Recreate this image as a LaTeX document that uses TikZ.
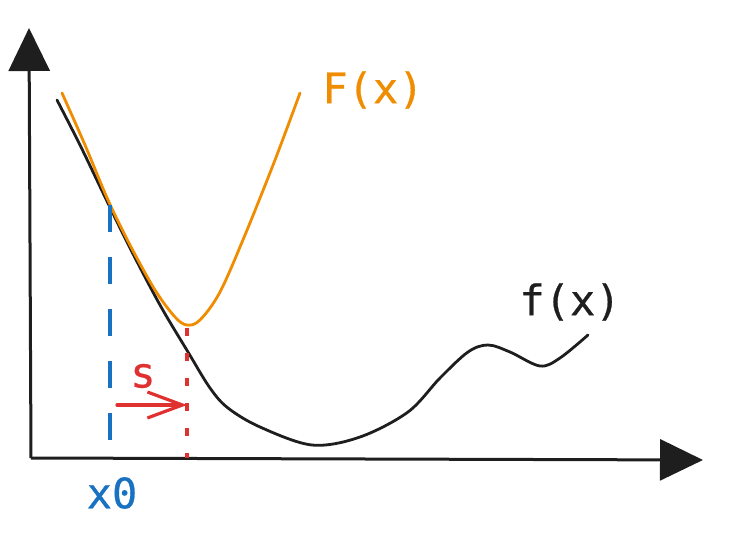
\documentclass[tikz,border=0pt]{standalone}
\usepackage{fontspec}
\setmonofont[FakeBold=0.6]{DejaVu Sans Mono}
\usepackage{tikz}
\usetikzlibrary{arrows.meta,positioning,calc}
\definecolor{sketchblack}{HTML}{1E1E1E}
\definecolor{sketchorange}{HTML}{F08C00}
\definecolor{sketchblue}{HTML}{1971C2}
\definecolor{sketchred}{HTML}{E03131}
\tikzset{
  axisline/.style={draw=sketchblack,line width=3pt,-{Triangle[length=43pt,width=41pt]}},
  fcurve/.style={draw=sketchblack,line width=2.8pt,line join=round,line cap=round},
  Fcurve/.style={draw=sketchorange,line width=2.8pt,line join=round,line cap=round},
  xline/.style={draw=sketchblue,line width=3.8pt,dash pattern=on 27pt off 25pt},
  sline/.style={draw=sketchred,line width=3.8pt,dash pattern=on 8pt off 17pt},
  sarrow/.style={draw=sketchred,line width=3.2pt,line cap=round,-{Straight Barb[length=35pt,width=26pt]}},
  sketchlabel/.style={font=\fontsize{42}{46}\selectfont\ttfamily,inner sep=0pt}
}
\begin{document}
\begin{tikzpicture}[x=1pt,y=-1pt]
\useasboundingbox (0,0) rectangle (731,554);
\coordinate (o) at (31,458);
\coordinate (ytip) at (29,28);
\coordinate (xtip) at (703,460);
\draw[axisline] (o) -- (ytip);
\draw[axisline] (o) -- (xtip);
% curves
\draw[fcurve] plot[smooth,tension=0.55] coordinates {(57,100) (80,145) (105,197) (130,248) (160,305) (188,352) (210,388) (228,408) (260,427) (312,445) (360,437) (408,412) (440,378) (468,352) (488,345) (510,352) (540,366) (560,358) (588,335)};
\draw[Fcurve] plot[smooth,tension=0.55] coordinates {(62,93) (85,145) (108,200) (130,245) (155,290) (175,317) (187,325) (200,320) (220,292) (245,235) (275,160) (300,93)};
% step markers
\coordinate (x0top) at (110,205);
\coordinate (x0bot) at (110,440);
\coordinate (stop) at (187,328);
\coordinate (sbot) at (187,458);
\coordinate (sfrom) at (117,405);
\coordinate (sto) at (187,405);
\draw[xline] (x0top) -- (x0bot);
\draw[sline] (stop) -- (sbot);
\draw[sarrow] (sfrom) -- (sto);
% labels
\node[sketchlabel,text=sketchorange] (Flabel) at (373,90) {F(x)};
\node[sketchlabel,text=sketchblack] (flabel) at (570,302) {f(x)};
\node[sketchlabel,text=sketchblue] (xlabel) at (112,493) {x0};
\node[sketchlabel,text=sketchred] (slabel) at (143,376) {s};
\end{tikzpicture}
\end{document}
